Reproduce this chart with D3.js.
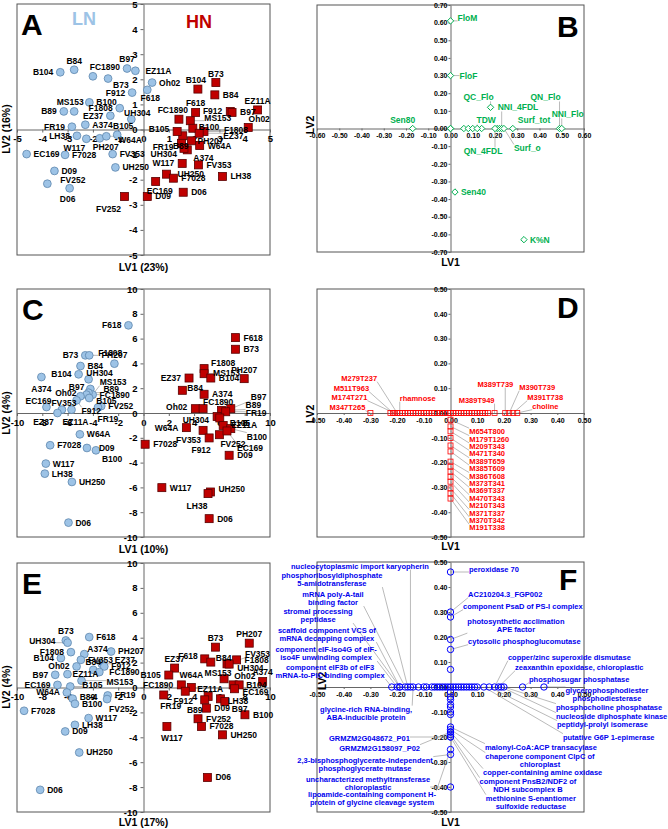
<!DOCTYPE html>
<html><head><meta charset="utf-8">
<script src="https://cdn.jsdelivr.net/npm/d3@7"></script>
<style>body{margin:0;background:#fff}svg text{font-family:Arial,"Liberation Sans",sans-serif;font-weight:bold}</style>
</head><body><svg id="c" width="668" height="829"></svg>
<script>
// ---------------- DATA ----------------
// Panel A (LV1 23%, LV2 16%)
const genoA_LN=["B104","B84","FC1890","B73","B97","EZ11A","Oh02","F618","F912","B100","MS153","B89","F1808","EZ37","UH304","FR19","A374","B105","LH38","W117","PH207","W64A","EC169","F7028","FV353","UH250","D09","FV252","D06"];
const lv1A_LN=[-3.29,-2.74,-2.00,-1.40,-0.65,-0.32,0.34,0.15,-0.45,-2.14,-2.74,-3.15,-0.94,-1.31,-0.48,-2.83,-2.30,-1.04,-2.63,-2.26,-1.73,-1.47,-4.62,-3.10,-1.22,-1.11,-3.52,-3.80,-2.92];
const lv2A_LN=[2.28,2.38,2.12,2.03,2.43,2.34,1.87,1.58,1.47,1.08,0.72,0.72,0.85,0.55,0.41,0.11,0.19,-0.21,-0.25,-0.37,-0.35,-0.27,-0.98,-1.01,-0.98,-1.51,-1.65,-2.16,-2.34];
const genoA_HN=["B73","B104","B84","F618","FC1890","F912","B97","EZ11A","Oh02","MS153","B100","F1808","EZ37","PH207","B89","B105","W64A","A374","FR19","UH304","W117","FV353","LH38","UH250","F7028","D06","EC169","D09","FV252"];
const lv1A_HN=[2.86,2.15,2.82,2.06,1.40,3.43,3.50,4.51,4.14,1.85,1.95,2.39,2.20,1.90,1.55,1.33,2.22,1.73,1.50,1.60,1.53,2.17,3.12,0.91,1.18,1.57,0.48,0.15,-0.75];
const lv2A_HN=[1.87,1.61,1.38,0.68,0.41,0.72,0.68,0.78,0.08,0.35,0.05,-0.08,-0.15,-0.45,-0.25,-0.08,-0.64,-0.81,-0.55,-0.75,-1.35,-1.41,-1.87,-1.78,-1.94,-2.50,-2.07,-2.67,-2.67];

// Panel B (variable loadings)
const varB=["FloM","FloF","QC_Flo","NNI_4FDL","TDW","Sen80","Surf_tot","QN_Flo","NNI_Flo","QN_4FDL","Surf_o","Sen40","K%N"];
const lv1B=[0.00,0.00,0.18,0.23,0.12,-0.17,0.28,0.49,0.50,0.20,0.24,0.02,0.33];
const lv2B=[0.61,0.30,0.12,0.00,0.00,0.00,0.00,0.00,0.00,0.00,0.00,-0.36,-0.63];
const lv1B_other=[0.00,0.00,0.06,0.08,0.10,0.14,0.21,0.22];

// Panel C (LV1 10%, LV2 4%)
const genoC_LN=["F618","B73","F1808","PH207","B84","B104","A374","UH304","B97","MS153","B89","FC1890","Oh02","B105","F912","EC169","FV353","EZ37","EZ11A","FV252","FR19","W64A","F7028","D09","B100","W117","LH38","UH250","D06"];
const lv1C_LN=[-1.19,-4.60,-4.29,-2.30,-4.98,-5.13,-8.07,-4.34,-4.20,-4.02,-4.35,-4.50,-4.98,-4.29,-5.29,-7.67,-6.45,-6.80,-5.69,-3.34,-3.60,-5.03,-7.38,-4.47,-3.76,-7.72,-7.80,-5.66,-5.93];
const lv2C_LN=[7.07,4.65,4.65,3.98,3.79,3.12,2.90,2.72,1.94,1.48,1.64,1.48,1.35,1.21,1.02,0.48,0.27,0.00,0.27,0.56,0.45,-1.72,-2.60,-2.82,-3.01,-4.08,-4.89,-5.56,-8.84];
const genoC_HN=["F618","B73","F1808","MS153","EZ37","B104","PH207","B84","A374","Oh02","FC1890","B97","B89","FR19","UH304","B105","W64A","EZ11A","FV353","F912","B100","FV252","EC169","D09","F7028","W117","UH250","LH38","D06"];
const lv1C_HN=[7.27,7.27,4.79,4.79,3.60,5.32,7.96,3.07,4.79,4.10,4.71,6.90,6.17,6.50,5.82,6.03,3.39,6.30,4.71,5.19,6.90,6.00,6.60,6.77,0.13,1.45,5.29,5.10,5.19];
const lv2C_HN=[6.08,5.14,3.58,3.17,2.82,2.82,2.77,1.83,1.51,0.35,0.35,0.35,0.20,0.10,-0.29,-0.40,-1.18,-1.00,-1.40,-2.01,-1.26,-1.75,-1.45,-3.41,-2.52,-6.02,-6.37,-6.50,-8.52];

// Panel D (metabolite loadings)
const metD=["M347T265","M174T271","M511T963","M279T237","rhamnose","M389T949","M389T739","M390T739","M391T738","choline"];
const lv1D=[-0.30,-0.21,-0.215,-0.20,-0.19,0.165,0.205,0.22,0.235,0.25];
const lv2D=[0,0,0,0,0,0,0,0,0,0];
const metD_col=["M654T800","M179T1260","M209T343","M471T340","M389T659","M385T609","M386T608","M373T341","M369T337","M470T343","M210T343","M371T337","M370T342","M191T338"];
const lv2D_col=[-0.027,-0.054,-0.074,-0.101,-0.131,-0.155,-0.196,-0.216,-0.236,-0.257,-0.277,-0.304,-0.324,-0.345];
const lv1D_other=[-0.225,-0.18,-0.17,-0.16,-0.15,-0.14,-0.13,-0.12,-0.11,-0.10,-0.09,-0.08,-0.07,-0.06,-0.05,-0.04,-0.03,-0.02,-0.01,0.00,0.01,0.02,0.03,0.04,0.05,0.06,0.07,0.08,0.09,0.10,0.11,0.12,0.13,0.14];

// Panel E (LV1 17%, LV2 4%)
const genoE_LN=["F618","B73","UH304","F1808","A374","PH207","B104","FV353","EZ37","B84","F912","FC1890","Oh02","EZ11A","B97","EC169","B105","MS153","W64A","B89","B100","FR19","FV252","F7028","W117","LH38","D09","UH250","D06"];
const lv1E_LN=[-4.29,-6.14,-6.00,-5.74,-4.68,-2.56,-6.53,-4.95,-3.30,-3.97,-3.10,-3.49,-5.29,-6.01,-6.98,-6.80,-5.79,-4.90,-6.06,-5.60,-5.42,-2.83,-2.88,-9.44,-4.34,-5.42,-6.19,-5.08,-8.17];
const lv2E_LN=[4.05,3.78,3.60,2.84,2.68,2.89,2.36,2.22,1.90,1.42,1.69,1.24,1.69,1.07,1.02,0.21,0.08,0.55,-0.40,-0.90,-1.31,-0.64,-0.93,-1.87,-2.46,-3.00,-3.53,-5.22,-8.22];
const genoE_HN=["B73","PH207","F1808","FV353","F618","B84","EZ37","UH304","MS153","Oh02","A374","B104","EC169","W64A","B105","FC1890","F912","EZ11A","FR19","LH38","B89","D09","B97","B100","FV252","F7028","W117","UH250","D06"];
const lv1E_HN=[5.69,8.36,7.36,6.60,4.84,5.32,2.46,6.77,6.37,7.09,9.42,7.56,7.20,3.78,2.00,2.99,3.30,5.11,1.60,6.08,4.84,4.97,6.43,8.02,4.31,4.58,1.85,6.24,5.05];
const lv2E_HN=[3.24,3.56,2.22,1.90,2.30,2.04,1.56,1.88,0.70,0.21,0.48,0.21,-0.10,0.00,1.00,0.21,-0.30,-0.72,-0.60,-0.91,-0.99,-1.66,-1.12,-2.19,-2.51,-3.13,-3.13,-3.80,-7.23];

// Panel F (protein loadings)
const protF=["nucleocytoplasmic import karyopherin","phosphoribosyldiphosphate|5-amidotransferase","mRNA poly-A-tail|binding factor","stromal processing|peptidase","scaffold component VCS of|mRNA decapping complex","component eIF-iso4G of eIF-|iso4F unwinding complex","component eIF3b of eIF3|mRNA-to-PIC binding complex","glycine-rich RNA-binding,|ABA-inducible protein","GRMZM2G048672_P01","GRMZM2G158097_P02","2,3-bisphosphoglycerate-independent|phosphoglycerate mutase","uncharacterized methyltransferase|chloroplastic","lipoamide-containing component H-|protein of glycine cleavage system","peroxidase 70","AC210204.3_FGP002","component PsaD of PS-I complex","photosynthetic acclimation|APE factor","cytosolic phosphoglucomutase","copper/zinc superoxide dismutase","zeaxanthin epoxidase, chloroplastic","phosphosugar phosphatase","glycerophosphodiester|phosphodiesterase","phosphocholine phosphatase","nucleoside diphosphate kinase","peptidyl-prolyl isomerase","putative G6P 1-epimerase","malonyl-CoA:ACP transacylase","chaperone component ClpC of|chloroplast","copper-containing amine oxidase","component PnsB2/NDF2 of|NDH subcomplex B","methionine S-enantiomer|sulfoxide reductase"];
const lv1F=[-0.15,-0.16,-0.17,-0.19,-0.19,-0.20,-0.22,-0.14,0,0,0,0,0,0,0,0,0,0,0.165,0.18,0.27,0.35,0.20,0.19,0.145,0.125,0,0,0,0,0];
const lv2F=[0,0,0,0,0,0,0,0,-0.20,-0.18,-0.27,-0.40,-0.25,0.46,0.30,0.28,0.19,0.15,0,0,0,0,0,0,0,0,-0.16,-0.17,-0.18,-0.19,-0.20];
const lv2F_other=[0.07,-0.02,-0.04,-0.05,-0.07,-0.08,-0.10,-0.11];
const lv1F_other=[-0.12,-0.10,-0.09,-0.07,-0.06,-0.05,-0.04,-0.03,-0.02,-0.01,0.00,0.01,0.02,0.03,0.04,0.05,0.06,0.07,0.08,0.09,0.10];

// tick values
const ticksA=[-5,-4,-3,-2,-1,0,1,2,3,4,5];
const ticksCE=[-10,-8,-6,-4,-2,0,2,4,6,8,10];
const ticksBx=[-0.6,-0.5,-0.4,-0.3,-0.2,-0.1,0,0.1,0.2,0.3,0.4,0.5,0.6];
const ticksBy=[-0.7,-0.6,-0.5,-0.4,-0.3,-0.2,-0.1,0,0.1,0.2,0.3,0.4,0.5,0.6,0.7];
const ticksDF=[-0.5,-0.4,-0.3,-0.2,-0.1,0,0.1,0.2,0.3,0.4,0.5];

// ---------------- LABEL LAYOUT (pixel offsets) ----------------
const labA_LN=["l","t",[12,-9,"middle"],[5,6,"start"],"t",[10,0,"start"],"r",[3,8,"middle"],"l","r",[-4,-9,"middle"],"l","l","l",[6,-6,"middle"],"l","r",[6,-9,"middle"],"l",[-12,9,"middle"],[6,9,"middle"],[12,4,"start",1],"r","r","r","r","r",[13,-4,"start"],[-2,11,"middle"]];
const labA_HN=["t",[-2,-9,"middle"],"r","t",[9,-9,"end"],"l","r","t",[11,-8,"middle"],[14,-3,"start",1],[6,-1,"start"],[20,-1,"start",1],[24,3,"start",1],[6,0,"start"],[-2,10,"middle"],[-8,-2,"end"],"r",[6,8,"start"],[-8,4,"end"],[-7,6,"end"],"l","r","r",[11,0,"start"],"r","r",[4,10,"middle"],"r",[-16,13,"middle"]];
const labB=[[7,-3,"start",1],[9,0,"start",1],[-12,-10,"middle",1],[-4,-21,"start",1],[9,-8,"middle",1],[-10,-8,"middle"],[5,-8,"start"],[-14,-31,"middle",1],[6,-14,"middle",1],[-12,23,"middle",1],[10,20,"start",1],"r","r"];
const labC_LN=["l","l",[9,-2,"start",1],"t","r","l",[0,12,"middle"],[11,-6,"middle"],[-6,-2,"end"],[7,-13,"start",1],[15,-4,"start",1],[13,0,"start",1],[-4,-3,"end"],[7,3,"start"],[5,11,"start",1],[-8,-6,"middle"],[2,-7,"middle"],[-14,9,"middle"],[4,12,"middle"],"r",[10,12,"middle",1],"r","r",[12,0,"start"],[6,9,"start"],"r","r","r","r"];
const labC_HN=["r","r",[7,-6,"start"],[9,-1,"start",1],"l","r","t",[5,-2,"start"],"r",[-8,-2,"end"],[0,-7,"start"],[20,-12,"start",1],[24,-5,"start",1],[20,1,"start",1],[-8,3,"end"],[10,5,"start"],"l","r",[-2,10,"end"],[-8,12,"middle"],[16,8,"start",1],[1,9,"start"],[10,17,"start",1],"r","r","r",[8,-3,"start"],[-11,12,"middle"],"r"];
const labE_LN=["r","t",[-12,-2,"end",1],"l",[3,-5,"start"],"r","l","r",[13,-4,"start",1],[0,-8,"middle"],"r",[10,0,"start"],"l",[5,0,"start"],"l","l",[12,-1,"start",1],[25,1,"start",1],"l",[7,-2,"start"],"r","r",[2,10,"start"],"r","r","r","r","r","r"];
const labE_HN=["t","t","r",[18,-10,"start",1],[-7,-3,"end"],[5,-4,"start"],"t",[8,4,"start"],[-6,-6,"middle"],[1,-9,"start"],"t",[7,0,"start"],[8,3,"start"],[0,-12,"middle"],"l","l",[-2,10,"middle"],[2,-7,"middle"],[7,11,"middle"],[7,2,"start"],[-10,10,"middle"],"r",[7,8,"start"],"r","r","r",[5,12,"middle"],"r","r"];
const labD=[[-5,-6,"end",1],[-27,-16,"end",1],[-24,-25,"end",1],[-20,-35,"end",1],[0,-15,"start",1],[0,-13,"end",1],[8,-29,"end",1],[10,-26,"start",1],[14,-16,"start",1],[15,-7,"start",1]];
// panel F label anchors in LV units
const labXF=[-0.339,-0.444,-0.440,-0.496,-0.463,-0.466,-0.451,-0.316,-0.152,-0.114,-0.320,-0.309,-0.294,0.069,0.066,0.047,0.245,0.066,0.215,0.242,0.294,0.586,0.395,0.395,0.399,0.421,0.129,0.335,0.122,0.290,0.301];
const labYF=[0.484,0.448,0.372,0.304,0.228,0.152,0.080,-0.088,-0.204,-0.244,-0.292,-0.368,-0.428,0.472,0.372,0.324,0.264,0.184,0.120,0.080,0.032,-0.012,-0.080,-0.116,-0.148,-0.200,-0.240,-0.276,-0.340,-0.376,-0.444];
const ancF=["middle","middle","middle","middle","middle","middle","middle","middle","end","end","middle","middle","middle","start","start","start","middle","start","start","start","start","middle","start","start","start","start","start","middle","start","middle","middle"];

// ---------------- DRAWING ----------------
const svg=d3.select("#c");
const FF='Arial,"Liberation Sans",sans-serif';
const fmtI=d=>String(d);
const fmt2=d=>(Math.abs(d)<1e-9?0:d).toFixed(2);

function panel(o){
  const x=d3.scaleLinear().domain(o.xd).range([o.x0,o.x1]);
  const y=d3.scaleLinear().domain(o.yd).range([o.y1,o.y0]);
  const g=svg.append("g");
  g.append("rect").attr("x",o.x0).attr("y",o.y0).attr("width",o.x1-o.x0).attr("height",o.y1-o.y0)
    .attr("fill","none").attr("stroke","#555").attr("stroke-width",1);
  const ax=g.append("g").attr("transform",`translate(0,${y(0)})`)
    .call(d3.axisBottom(x).tickValues(o.xt).tickFormat(o.fmt).tickSize(o.ts).tickSizeOuter(0).tickPadding(o.tpx));
  const ay=g.append("g").attr("transform",`translate(${x(0)},0)`)
    .call(d3.axisLeft(y).tickValues(o.yt).tickFormat(o.fmt).tickSize(o.ts).tickSizeOuter(0).tickPadding(o.tpy));
  [ax,ay].forEach(a=>{
    a.select(".domain").attr("stroke","#666").attr("stroke-width",1);
    a.selectAll(".tick line").attr("stroke","#666");
    a.selectAll("text").attr("font-size",o.tfs).attr("font-weight","bold").attr("fill","#000").attr("font-family",FF);
  });
  g.append("text").attr("x",o.lx).attr("y",o.ly).attr("font-size",30).attr("fill","#000").text(o.letter);
  g.append("text").attr("x",x(0)).attr("y",o.xty).attr("text-anchor","middle").attr("font-size",10.5).text(o.xtitle);
  g.append("text").attr("transform",`translate(${o.ytx},${o.yty}) rotate(-90)`).attr("text-anchor","middle").attr("font-size",10.5).text(o.ytitle);
  const gl=g.append("g"), gm=g.append("g"), gt=g.append("g");
  return {x,y,g,gl,gm,gt};
}

function addLabel(P,px,py,text,dx,dy,anchor,leader,color,fs){
  const lines=text.split("|");
  const t=P.gt.append("text").attr("x",px+dx).attr("y",py+dy).attr("text-anchor",anchor)
    .attr("font-size",fs).attr("fill",color);
  lines.forEach((ln,k)=>t.append("tspan").attr("x",px+dx).attr("dy",k===0?"0.35em":(fs*1.13)+"px").text(ln));
  if(leader){
    const bb=t.node().getBBox();
    const nx=Math.max(bb.x,Math.min(px,bb.x+bb.width));
    const ny=Math.max(bb.y+1,Math.min(py,bb.y+bb.height-1));
    if(Math.hypot(nx-px,ny-py)>4){
      P.gl.append("line").attr("x1",px).attr("y1",py).attr("x2",nx).attr("y2",ny)
        .attr("stroke","#8c8c8c").attr("stroke-width",0.6);
    }
  }
}
function spec(s,m){
  if(s==="r") return [m,0,"start",0];
  if(s==="l") return [-m,0,"end",0];
  if(s==="t") return [0,-9,"middle",0];
  if(s==="b") return [0,10,"middle",0];
  return [s[0],s[1],s[2],s[3]||0];
}
function genotypes(P,names,xs,ys,labs,kind){
  const idx=d3.range(names.length);
  if(kind==="ln"){
    P.gm.selectAll(null).data(idx).join("circle")
      .attr("cx",i=>P.x(xs[i])).attr("cy",i=>P.y(ys[i])).attr("r",3.9)
      .attr("fill","#9DC3E6").attr("stroke","#5E86AD").attr("stroke-width",0.8);
  } else {
    P.gm.selectAll(null).data(idx).join("rect")
      .attr("x",i=>P.x(xs[i])-4).attr("y",i=>P.y(ys[i])-4).attr("width",8).attr("height",8)
      .attr("fill","#C00000").attr("stroke","#5a0000").attr("stroke-width",0.8);
  }
  idx.forEach(i=>{
    const s=spec(labs[i],kind==="ln"?7:8);
    addLabel(P,P.x(xs[i]),P.y(ys[i]),names[i],s[0],s[1],s[2],s[3],"#000",8.5);
  });
}

// ---- Panel A
const PA=panel({x0:17,x1:270,y0:4,y1:255,xd:[-5,5],yd:[-5,5],xt:ticksA,yt:ticksA,fmt:fmtI,ts:3,tpx:3,tpy:3,tfs:9.5,
  letter:"A",lx:21,ly:35,xtitle:"LV1 (23%)",xty:271,ytitle:"LV2 (16%)",ytx:10,yty:129});
PA.g.append("text").attr("x",84).attr("y",25).attr("text-anchor","middle").attr("font-size",18).attr("fill","#9DC3E6").text("LN");
PA.g.append("text").attr("x",199).attr("y",28).attr("text-anchor","middle").attr("font-size",18).attr("fill","#C00000").text("HN");
genotypes(PA,genoA_LN,lv1A_LN,lv2A_LN,labA_LN,"ln");
genotypes(PA,genoA_HN,lv1A_HN,lv2A_HN,labA_HN,"hn");

// ---- Panel B
const PB=panel({x0:317,x1:584,y0:5,y1:252,xd:[-0.6,0.6],yd:[-0.7,0.7],xt:ticksBx,yt:ticksBy,fmt:fmt2,ts:2,tpx:3,tpy:1,tfs:7,
  letter:"B",lx:557,ly:37,xtitle:"LV1",xty:266,ytitle:"LV2",ytx:314,yty:125});
const diamond=d3.symbol().type(d3.symbolDiamond2).size(26);
PB.gm.selectAll(null).data(lv1B_other).join("path").attr("d",diamond)
  .attr("transform",d=>`translate(${PB.x(d)},${PB.y(0)})`).attr("fill","#fff").attr("stroke","#00B050").attr("stroke-width",1);
PB.gm.selectAll(null).data(d3.range(varB.length)).join("path").attr("d",diamond)
  .attr("transform",i=>`translate(${PB.x(lv1B[i])},${PB.y(lv2B[i])})`).attr("fill","#fff").attr("stroke","#00B050").attr("stroke-width",1);
varB.forEach((n,i)=>{const s=spec(labB[i],6);addLabel(PB,PB.x(lv1B[i]),PB.y(lv2B[i]),n,s[0],s[1],s[2],s[3],"#00B050",8.5);});

// ---- Panel C
const PC=panel({x0:17,x1:270,y0:289,y1:537,xd:[-10,10],yd:[-10,10],xt:ticksCE,yt:ticksCE,fmt:fmtI,ts:3,tpx:3,tpy:3,tfs:9.5,
  letter:"C",lx:22,ly:320,xtitle:"LV1 (10%)",xty:553,ytitle:"LV2 (4%)",ytx:10,yty:413});
genotypes(PC,genoC_LN,lv1C_LN,lv2C_LN,labC_LN,"ln");
genotypes(PC,genoC_HN,lv1C_HN,lv2C_HN,labC_HN,"hn");

// ---- Panel D
const PD=panel({x0:317,x1:584,y0:289,y1:537,xd:[-0.5,0.5],yd:[-0.5,0.5],xt:ticksDF,yt:ticksDF,fmt:fmt2,ts:2,tpx:3,tpy:1,tfs:7,
  letter:"D",lx:557,ly:318,xtitle:"LV1",xty:550,ytitle:"LV2",ytx:314,yty:414});
function sqD(x,y){PD.gm.append("rect").attr("x",PD.x(x)-2.5).attr("y",PD.y(y)-2.5).attr("width",5).attr("height",5)
  .attr("fill","none").attr("stroke","#FF0000").attr("stroke-width",0.8);}
lv1D_other.forEach(v=>sqD(v,0));
metD.forEach((n,i)=>{sqD(lv1D[i],lv2D[i]);const s=labD[i];addLabel(PD,PD.x(lv1D[i]),PD.y(lv2D[i]),n,s[0],s[1],s[2],s[3],"#FF0000",7.5);});
const colLabX=0.07, colLabY=d3.range(metD_col.length).map(i=>-0.075-i*0.0298);
metD_col.forEach((n,i)=>{sqD(0,lv2D_col[i]);
  addLabel(PD,PD.x(0),PD.y(lv2D_col[i]),n,PD.x(colLabX)-PD.x(0),PD.y(colLabY[i])-PD.y(lv2D_col[i]),"start",1,"#FF0000",7.5);});

// ---- Panel E
const PE=panel({x0:17,x1:270,y0:563,y1:812,xd:[-10,10],yd:[-10,10],xt:ticksCE,yt:ticksCE,fmt:fmtI,ts:3,tpx:3,tpy:3,tfs:9.5,
  letter:"E",lx:22,ly:594,xtitle:"LV1 (17%)",xty:826,ytitle:"LV2 (4%)",ytx:10,yty:687});
genotypes(PE,genoE_LN,lv1E_LN,lv2E_LN,labE_LN,"ln");
genotypes(PE,genoE_HN,lv1E_HN,lv2E_HN,labE_HN,"hn");

// ---- Panel F
const PF=panel({x0:317,x1:584,y0:562,y1:812,xd:[-0.5,0.5],yd:[-0.5,0.5],xt:ticksDF,yt:ticksDF,fmt:fmt2,ts:2,tpx:3,tpy:1,tfs:7,
  letter:"F",lx:559,ly:590,xtitle:"LV1",xty:826,ytitle:"LV2",ytx:326,yty:681});
function ciF(x,y){PF.gm.append("circle").attr("cx",PF.x(x)).attr("cy",PF.y(y)).attr("r",3.2)
  .attr("fill","none").attr("stroke","#0000FF").attr("stroke-width",1);}
lv1F_other.forEach(v=>ciF(v,0));
lv2F_other.forEach(v=>ciF(0,v));
protF.forEach((n,i)=>{ciF(lv1F[i],lv2F[i]);
  const px=PF.x(lv1F[i]),py=PF.y(lv2F[i]);
  addLabel(PF,px,py,n,PF.x(labXF[i])-px,PF.y(labYF[i])-py,ancF[i],1,"#0000EE",7.5);});
</script></body></html>
